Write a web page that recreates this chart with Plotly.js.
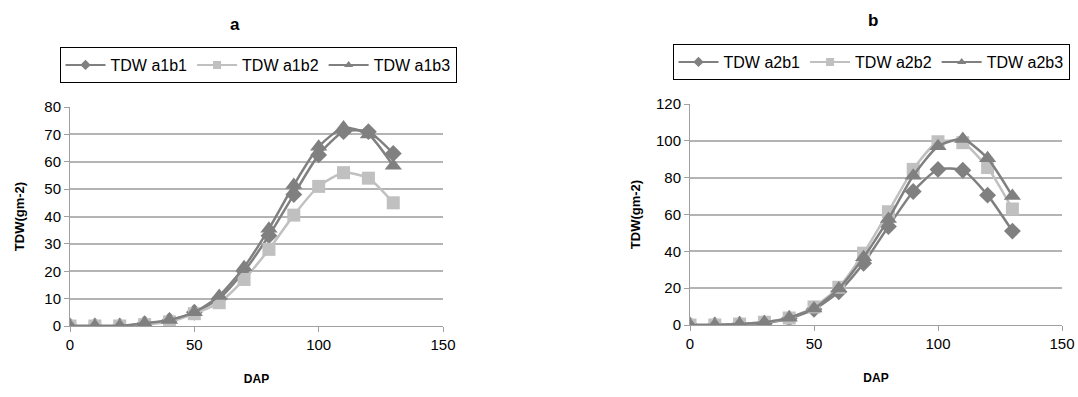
<!DOCTYPE html>
<html>
<head>
<meta charset="utf-8">
<script src="https://cdn.plot.ly/plotly-3.0.1.min.js"></script>
<style>
html,body{margin:0;padding:0;background:#fff;}
#chart{width:1078px;height:397px;}
</style>
</head>
<body>
<div id="chart"></div>
<script>
// ---- data ----
const dap = [0, 10, 20, 30, 40, 50, 60, 70, 80, 90, 100, 110, 120, 130];

const a1b1 = [0, 0, 0, 0.8, 2, 5, 10, 20, 33, 48, 62.5, 71, 71, 63];
const a1b2 = [0, 0, 0, 0.5, 1.5, 4.5, 8.5, 17, 28, 40.5, 51, 56, 54, 45];
const a1b3 = [0, 0, 0, 1, 2.2, 5, 11, 21.5, 35.5, 51.5, 65.5, 72.5, 70, 58.5];

const a2b1 = [0, 0, 0.5, 1, 3.5, 8.5, 18, 33.5, 53.5, 72.5, 84.5, 84, 70.5, 51];
const a2b2 = [0, 0, 0.5, 1.5, 3.8, 9.8, 20.5, 39, 61.5, 84.5, 99.5, 99, 85.5, 63];
const a2b3 = [0, 0, 0.5, 1.5, 4, 9, 19.8, 36.8, 57.5, 81, 97, 101, 90.5, 70];

const namesA = ['TDW a1b1', 'TDW a1b2', 'TDW a1b3'];
const namesB = ['TDW a2b1', 'TDW a2b2', 'TDW a2b3'];
const panelTitles = ['a', 'b'];
const yTitle = 'TDW(gm-2)';
const xTitle = 'DAP';

// ---- styles ----
const dark = '#808080';
const light = '#c0c0c0';
const styles = [
  {color: dark, symbol: 'diamond', size: 13},
  {color: light, symbol: 'square', size: 13},
  {color: dark, symbol: 'triangle-up', size: 15}
];

function mk(x, y, name, st, xa, ya) {
  return {
    x: x, y: y, name: name, type: 'scatter', mode: 'lines+markers',
    xaxis: xa, yaxis: ya, showlegend: false,
    line: {color: st.color, width: 2.5, shape: 'spline', smoothing: 0.6},
    marker: {color: st.color, symbol: st.symbol, size: st.size, line: {width: 0}}
  };
}
// legend-only entries (no points) so legend symbols can be small as in the reference
function lg(name, st, xa, ya, leg) {
  return {
    x: [null], y: [null], name: name, type: 'scatter', mode: 'lines+markers',
    xaxis: xa, yaxis: ya, legend: leg, showlegend: true, hoverinfo: 'skip',
    line: {color: st.color, width: 2},
    marker: {color: st.color, symbol: st.symbol, size: 8, line: {width: 0}}
  };
}

const traces = [
  mk(dap, a1b1, namesA[0], styles[0], 'x', 'y'),
  mk(dap, a1b2, namesA[1], styles[1], 'x', 'y'),
  mk(dap, a1b3, namesA[2], styles[2], 'x', 'y'),
  mk(dap, a2b1, namesB[0], styles[0], 'x2', 'y2'),
  mk(dap, a2b2, namesB[1], styles[1], 'x2', 'y2'),
  mk(dap, a2b3, namesB[2], styles[2], 'x2', 'y2'),
  lg(namesA[0], styles[0], 'x', 'y', 'legend'),
  lg(namesA[1], styles[1], 'x', 'y', 'legend'),
  lg(namesA[2], styles[2], 'x', 'y', 'legend'),
  lg(namesB[0], styles[0], 'x2', 'y2', 'legend2'),
  lg(namesB[1], styles[1], 'x2', 'y2', 'legend2'),
  lg(namesB[2], styles[2], 'x2', 'y2', 'legend2')
];

const W = 1078, H = 397;
const px = v => v / W;
const py = v => 1 - v / H;

const fam = 'Liberation Sans, Arial, sans-serif';
const font = {family: fam, size: 15, color: '#000'};

function xaxisDef(l, r, anchor) {
  return {
    domain: [px(l), px(r)], anchor: anchor,
    range: [0, 150], dtick: 50, tick0: 0,
    showgrid: false, zeroline: false,
    showline: true, linecolor: '#a0a0a0', linewidth: 1,
    ticks: 'outside', ticklen: 5, tickcolor: '#a0a0a0',
    tickfont: {family: fam, size: 15, color: '#000'},
    title: {text: '<b>' + xTitle + '</b>', font: {family: fam, size: 12, color: '#000'}, standoff: 22}
  };
}
function yaxisDef(top, bottom, max, step, anchor, standoff) {
  return {
    domain: [py(bottom), py(top)], anchor: anchor,
    range: [0, max], dtick: step, tick0: 0,
    showgrid: true, gridcolor: '#b4b4b4', gridwidth: 2,
    zeroline: false,
    showline: true, linecolor: '#a0a0a0', linewidth: 1,
    ticks: 'outside', ticklen: 5, tickcolor: '#a0a0a0',
    tickfont: {family: fam, size: 15, color: '#000'},
    title: {text: '<b>' + yTitle + '</b>', font: {family: fam, size: 13, color: '#000'}, standoff: standoff}
  };
}

function legendDef(xc, yc) {
  return {
    orientation: 'h', x: px(xc), y: py(yc), xanchor: 'center', yanchor: 'middle',
    bordercolor: '#000', borderwidth: 1, bgcolor: '#fff',
    font: {family: fam, size: 16, color: '#000'},
    itemwidth: 40, tracegroupgap: 0
  };
}

const layout = {
  width: W, height: H,
  margin: {l: 0, r: 0, t: 0, b: 0},
  paper_bgcolor: '#fff', plot_bgcolor: '#fff',
  font: font,
  showlegend: true,
  xaxis: xaxisDef(70, 443, 'y'),
  yaxis: yaxisDef(107, 326, 80, 10, 'x', 16),
  xaxis2: xaxisDef(690, 1062, 'y2'),
  yaxis2: yaxisDef(104, 325, 120, 20, 'x2', 12),
  legend: legendDef(258, 65),
  legend2: legendDef(871, 62),
  annotations: [
    {text: '<b>' + panelTitles[0] + '</b>', x: px(235), y: py(24), xref: 'paper', yref: 'paper',
     xanchor: 'center', yanchor: 'middle',
     showarrow: false, font: {family: fam, size: 17, color: '#000'}},
    {text: '<b>' + panelTitles[1] + '</b>', x: px(873), y: py(21), xref: 'paper', yref: 'paper',
     xanchor: 'center', yanchor: 'middle',
     showarrow: false, font: {family: fam, size: 17, color: '#000'}}
  ]
};

Plotly.newPlot('chart', traces, layout, {displayModeBar: false, staticPlot: true});
</script>
</body>
</html>
